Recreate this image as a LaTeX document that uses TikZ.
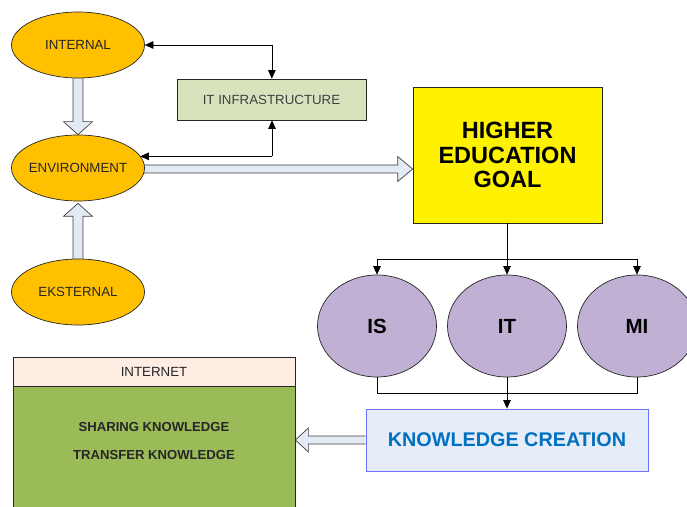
\documentclass[tikz,border=0pt]{standalone}
\usepackage{fontspec}
\setmainfont{Liberation Sans}
\usetikzlibrary{calc,shapes.geometric,arrows.meta,backgrounds}
\definecolor{orng}{HTML}{FFC000}
\definecolor{itgreen}{HTML}{D6E3BC}
\definecolor{purp}{HTML}{C0B1D4}
\definecolor{kcfill}{HTML}{E6ECF8}
\definecolor{kcborder}{HTML}{7070FF}
\definecolor{kctext}{HTML}{0070C0}
\definecolor{bafill}{HTML}{E3EAF5}
\definecolor{hdrfill}{HTML}{FDEDE3}
\definecolor{bodyfill}{HTML}{9BBB59}
\tikzset{
  small/.style={font=\fontsize{13.3}{15}\selectfont, text=black!85},
  oval/.style={ellipse, draw=black!85, line width=0.7pt, fill=orng, minimum width=133pt, minimum height=66pt, inner sep=0pt},
  circ/.style={ellipse, draw=black!85, line width=0.7pt, fill=purp, minimum width=119pt, minimum height=102pt, inner sep=0pt, font=\fontsize{20.5}{24}\selectfont\bfseries},
  boxx/.style={rectangle, draw=black!85, line width=0.7pt, inner sep=0pt},
  conn/.style={line width=0.7pt, black},
  tip/.style={-{Triangle[length=8.5pt,width=7.5pt]}},
  barrow/.style={draw=black!75, line width=0.7pt, fill=bafill, line join=miter},
}
\begin{document}
\begin{tikzpicture}[x=1pt,y=1pt]
\useasboundingbox (0,0) rectangle (687,506);
% nodes
\node[oval] (int) at (78,461) {};
\node[small] (intl) at (int.center) {INTERNAL};
\node[oval] (env) at (78,338) {};
\node[small] (envl) at (env.center) {ENVIRONMENT};
\node[oval] (eks) at (78,214) {};
\node[small] (eksl) at (eks.center) {EKSTERNAL};
\node[boxx, fill=itgreen, minimum width=189pt, minimum height=41pt, small, text=black!75] (itinf) at (271.5,406.5) {IT INFRASTRUCTURE};
\node[boxx, fill=yellow, minimum width=189pt, minimum height=136pt, align=center, font=\fontsize{23.5}{24.5}\selectfont\bfseries] (heg) at (507.5,351) {HIGHER\\EDUCATION\\GOAL};
\node[circ] (is) at (377,180) {IS};
\node[circ] (it) at (507,180) {IT};
\node[circ] (mi) at (637,180) {MI};
\node[rectangle, draw=kcborder, line width=0.8pt, fill=kcfill, minimum width=282pt, minimum height=62pt, text=kctext, font=\fontsize{19.8}{22}\selectfont\bfseries] (kc) at (507,66) {KNOWLEDGE CREATION};
\node[boxx, fill=hdrfill, minimum width=282pt, minimum height=29pt, small] (inet) at (154,134.5) {INTERNET};
\node[boxx, fill=bodyfill, minimum width=282pt, minimum height=124pt, anchor=north] (body) at (inet.south) {};
\node[small, font=\fontsize{13.1}{15}\selectfont\bfseries] (share) at (154,79) {SHARING KNOWLEDGE};
\node[small, font=\fontsize{13.1}{15}\selectfont\bfseries] (transfer) at (154,51) {TRANSFER KNOWLEDGE};
% connectors
\draw[conn, tip] ($(int.east)+(127,0)$) coordinate (c1) -- (int.east);
\draw[conn, tip] (c1) -- (itinf.north -| c1);
\draw[conn, tip] ($(itinf.south)+(0.5,-36)$) coordinate (c2) -- (env.11 |- c2);
\draw[conn, tip] (c2) -- (itinf.south -| c2);
\draw[conn] (heg.south -| it.north) -- ++(0,-36) coordinate (hb);
\draw[conn, tip] (hb) -- (it.north);
\draw[conn, tip] (hb) -| (is.north);
\draw[conn, tip] (hb) -| (mi.north);
\draw[conn] (is.south) -- ++(0,-16) coordinate (bb) -| (mi.south);
\draw[conn, tip] (it.south) -- (kc.north);
% block arrows
\begin{scope}[on background layer]
\draw[barrow] ($(int.south)+(-5,5)$) -- ($(env.north)+(-5,13)$) -- ($(env.north)+(-14.5,13)$) -- (env.north) -- ($(env.north)+(14.5,13)$) -- ($(env.north)+(5,13)$) -- ($(int.south)+(5,5)$);
\draw[barrow] ($(eks.north)+(-5,-5)$) -- ($(env.south)+(-5,-15)$) -- ($(env.south)+(-14.5,-15)$) -- ($(env.south)+(0,-2)$) -- ($(env.south)+(14.5,-15)$) -- ($(env.south)+(5,-15)$) -- ($(eks.north)+(5,-5)$);
\coordinate (t1) at ($(heg.west |- env.east)+(0,-1)$);
\draw[barrow, fill=bafill] ($(env.east)+(-5,3)$) -- ($(t1)+(-15,4)$) -- ($(t1)+(-15,12.5)$) -- (t1) -- ($(t1)+(-15,-12.5)$) -- ($(t1)+(-15,-4)$) -- ($(env.east)+(-5,-5)$);
\coordinate (t2) at (body.east |- kc.west);
\draw[barrow] (kc.west) ++(0,4) -- ($(t2)+(13,4)$) -- ($(t2)+(13,12)$) -- (t2) -- ($(t2)+(13,-12)$) -- ($(t2)+(13,-4)$) -- ($(kc.west)+(0,-4)$);
\end{scope}
\end{tikzpicture}
\end{document}
